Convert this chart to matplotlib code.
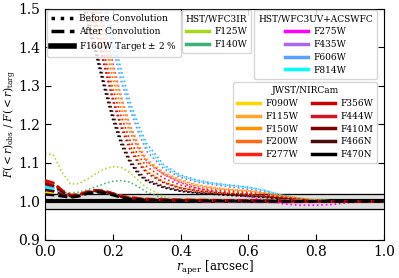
import numpy as np
import matplotlib
matplotlib.use('Agg')
import matplotlib.pyplot as plt
from matplotlib.lines import Line2D

plt.rcParams['font.family'] = 'DejaVu Serif'
plt.rcParams['mathtext.fontset'] = 'dejavuserif'

# aperture radii [arcsec]
r_before = [0.0, 0.05, 0.1, 0.125, 0.15, 0.175, 0.2, 0.225, 0.25, 0.275, 0.3,
            0.35, 0.4, 0.45, 0.5, 0.55, 0.6, 0.65, 0.7, 0.75, 0.8, 0.85, 0.9, 1.0]
r_after = [0.0, 0.025, 0.05, 0.075, 0.1, 0.125, 0.15, 0.175, 0.2, 0.225, 0.25,
           0.3, 0.4, 0.5, 0.6, 0.7, 0.8, 0.9, 1.0]
r_ir = [0.0, 0.025, 0.05, 0.075, 0.1, 0.125, 0.15, 0.175, 0.2, 0.225, 0.25,
        0.275, 0.3, 0.35, 0.4, 0.5, 0.6, 0.8, 1.0]

# HST/WFC3IR
ir_filters = ['F125W', 'F140W']
ir_colors = ['#a8d81c', '#3cb07a']
ir_before = {
    'F125W': [1.125, 1.12, 1.075, 1.045, 1.046, 1.058, 1.072, 1.084, 1.09, 1.088,
              1.075, 1.055, 1.035, 1.012, 1.002, 1.0, 1.0, 1.0, 1.0],
    'F140W': [1.03, 1.028, 1.024, 1.022, 1.024, 1.03, 1.038, 1.046, 1.052, 1.054,
              1.05, 1.038, 1.024, 1.008, 1.002, 1.0, 1.0, 1.0, 1.0],
}
ir_after = {
    'F125W': [1.04, 1.035, 1.022, 1.014, 1.017, 1.024, 1.027, 1.025, 1.019, 1.013,
              1.009, 1.006, 1.004, 1.003, 1.002, 1.002, 1.001, 1.0, 1.0],
    'F140W': [1.035, 1.03, 1.02, 1.013, 1.016, 1.023, 1.026, 1.024, 1.018, 1.012,
              1.008, 1.005, 1.003, 1.002, 1.002, 1.001, 1.0, 1.0, 1.0],
}

# HST/WFC3UV+ACSWFC
uv_filters = ['F275W', 'F435W', 'F606W', 'F814W']
uv_colors = ['#ff00ff', '#aa66f0', '#55a2ff', '#00ffff']
uv_before = {
    'F275W': [3.9, 2.6, 1.8, 1.67, 1.55, 1.45, 1.36, 1.27, 1.2, 1.145, 1.105,
              1.07, 1.048, 1.034, 1.025, 1.018, 1.012, 1.003, 0.994, 0.99, 0.99,
              0.992, 0.997, 1.0],
    'F435W': [4.0, 2.7, 1.86, 1.72, 1.6, 1.5, 1.4, 1.31, 1.24, 1.18, 1.13,
              1.085, 1.062, 1.05, 1.043, 1.037, 1.032, 1.024, 1.013, 1.005, 1.0,
              0.998, 0.999, 1.0],
    'F606W': [4.1, 2.8, 1.9, 1.76, 1.64, 1.53, 1.43, 1.34, 1.26, 1.2, 1.15,
              1.095, 1.068, 1.055, 1.047, 1.042, 1.037, 1.028, 1.016, 1.008, 1.003,
              1.001, 1.0, 1.0],
    'F814W': [4.0, 2.75, 1.88, 1.74, 1.62, 1.51, 1.41, 1.32, 1.25, 1.19, 1.14,
              1.09, 1.066, 1.053, 1.046, 1.041, 1.036, 1.028, 1.016, 1.008, 1.003,
              1.001, 1.0, 1.0],
}
uv_after = {
    'F275W': [1.03, 1.026, 1.018, 1.012, 1.015, 1.022, 1.026, 1.024, 1.018, 1.012,
              1.008, 1.004, 1.002, 1.0, 0.999, 0.998, 0.999, 1.0, 1.0],
    'F435W': [1.038, 1.033, 1.021, 1.013, 1.016, 1.023, 1.027, 1.025, 1.019, 1.013,
              1.009, 1.005, 1.003, 1.002, 1.001, 1.0, 1.0, 1.0, 1.0],
    'F606W': [1.042, 1.037, 1.023, 1.014, 1.017, 1.024, 1.028, 1.026, 1.02, 1.014,
              1.01, 1.006, 1.004, 1.003, 1.002, 1.001, 1.0, 1.0, 1.0],
    'F814W': [1.036, 1.031, 1.02, 1.013, 1.016, 1.023, 1.027, 1.025, 1.019, 1.013,
              1.009, 1.005, 1.003, 1.002, 1.002, 1.001, 1.0, 1.0, 1.0],
}

# JWST/NIRCam
nc_filters = ['F090W', 'F115W', 'F150W', 'F200W', 'F277W',
              'F356W', 'F444W', 'F410M', 'F466N', 'F470N']
nc_colors = ['#ffd700', '#ffa528', '#ff9500', '#ff6a1a', '#ff2010',
             '#cc0000', '#d01525', '#800000', '#4a0c0c', '#000000']
nc_before = {
    'F090W': [3.7, 2.4, 1.7, 1.58, 1.47, 1.38, 1.3, 1.22, 1.155, 1.11, 1.08,
              1.05, 1.036, 1.028, 1.023, 1.02, 1.017, 1.013, 1.008, 1.004, 1.001,
              1.0, 0.999, 1.0],
    'F115W': [3.9, 2.55, 1.78, 1.65, 1.54, 1.44, 1.35, 1.27, 1.2, 1.15, 1.11,
              1.076, 1.056, 1.043, 1.036, 1.031, 1.028, 1.022, 1.014, 1.008, 1.003,
              1.001, 1.0, 1.0],
    'F150W': [3.8, 2.5, 1.76, 1.63, 1.52, 1.42, 1.34, 1.26, 1.19, 1.14, 1.105,
              1.073, 1.054, 1.041, 1.034, 1.03, 1.027, 1.021, 1.014, 1.008, 1.003,
              1.001, 1.0, 1.0],
    'F200W': [3.8, 2.48, 1.74, 1.61, 1.5, 1.41, 1.32, 1.24, 1.18, 1.135, 1.1,
              1.07, 1.05, 1.038, 1.032, 1.028, 1.025, 1.02, 1.013, 1.007, 1.003,
              1.001, 1.0, 1.0],
    'F277W': [3.7, 2.42, 1.7, 1.58, 1.47, 1.38, 1.29, 1.22, 1.16, 1.12, 1.09,
              1.06, 1.042, 1.033, 1.028, 1.025, 1.022, 1.017, 1.011, 1.006, 1.002,
              1.0, 1.0, 1.0],
    'F356W': [3.6, 2.35, 1.65, 1.54, 1.44, 1.35, 1.26, 1.19, 1.135, 1.098, 1.073,
              1.048, 1.034, 1.027, 1.023, 1.02, 1.018, 1.014, 1.009, 1.005, 1.002,
              1.0, 1.0, 1.0],
    'F444W': [3.6, 2.36, 1.66, 1.55, 1.45, 1.36, 1.27, 1.2, 1.145, 1.104, 1.077,
              1.05, 1.035, 1.028, 1.024, 1.021, 1.019, 1.015, 1.01, 1.005, 1.002,
              1.0, 1.0, 1.0],
    'F410M': [3.5, 2.25, 1.58, 1.49, 1.4, 1.31, 1.23, 1.16, 1.11, 1.078, 1.057,
              1.039, 1.029, 1.023, 1.02, 1.017, 1.015, 1.012, 1.008, 1.004, 1.001,
              1.0, 1.0, 1.0],
    'F466N': [3.5, 2.22, 1.56, 1.47, 1.39, 1.3, 1.22, 1.155, 1.105, 1.073, 1.054,
              1.037, 1.027, 1.022, 1.019, 1.016, 1.014, 1.011, 1.007, 1.003, 1.001,
              1.0, 1.0, 1.0],
    'F470N': [3.5, 2.2, 1.55, 1.46, 1.38, 1.29, 1.21, 1.145, 1.1, 1.07, 1.052,
              1.035, 1.026, 1.021, 1.018, 1.015, 1.013, 1.01, 1.006, 1.003, 1.001,
              1.0, 1.0, 1.0],
}
nc_after = {
    'F090W': [1.022, 1.02, 1.014, 1.01, 1.014, 1.021, 1.025, 1.023, 1.017, 1.011,
              1.008, 1.004, 1.002, 1.001, 1.001, 1.0, 1.0, 1.0, 1.0],
    'F115W': [1.045, 1.04, 1.025, 1.015, 1.017, 1.024, 1.028, 1.026, 1.02, 1.014,
              1.01, 1.006, 1.004, 1.003, 1.002, 1.001, 1.0, 1.0, 1.0],
    'F150W': [1.05, 1.044, 1.027, 1.016, 1.018, 1.025, 1.029, 1.027, 1.02, 1.014,
              1.01, 1.006, 1.004, 1.003, 1.002, 1.001, 1.0, 1.0, 1.0],
    'F200W': [1.052, 1.046, 1.028, 1.016, 1.018, 1.025, 1.029, 1.027, 1.02, 1.014,
              1.01, 1.006, 1.004, 1.003, 1.002, 1.001, 1.0, 1.0, 1.0],
    'F277W': [1.055, 1.048, 1.029, 1.016, 1.018, 1.025, 1.029, 1.027, 1.021, 1.014,
              1.01, 1.006, 1.004, 1.003, 1.002, 1.001, 1.0, 1.0, 1.0],
    'F356W': [1.053, 1.047, 1.028, 1.015, 1.017, 1.024, 1.028, 1.026, 1.02, 1.013,
              1.009, 1.005, 1.003, 1.002, 1.002, 1.001, 1.0, 1.0, 1.0],
    'F444W': [1.05, 1.044, 1.027, 1.015, 1.017, 1.024, 1.028, 1.026, 1.02, 1.013,
              1.009, 1.005, 1.003, 1.002, 1.002, 1.001, 1.0, 1.0, 1.0],
    'F410M': [1.045, 1.04, 1.025, 1.014, 1.016, 1.023, 1.027, 1.025, 1.019, 1.012,
              1.008, 1.004, 1.003, 1.002, 1.001, 1.001, 1.0, 1.0, 1.0],
    'F466N': [1.03, 1.026, 1.018, 1.012, 1.015, 1.022, 1.026, 1.024, 1.018, 1.011,
              1.007, 1.004, 1.002, 1.001, 1.001, 1.0, 1.0, 1.0, 1.0],
    'F470N': [1.018, 1.016, 1.013, 1.01, 1.013, 1.02, 1.024, 1.022, 1.016, 1.01,
              1.006, 1.003, 1.002, 1.001, 1.0, 1.0, 1.0, 1.0, 1.0],
}

fig = plt.figure(figsize=(3.99, 2.78), dpi=100)
ax = fig.add_axes([0.113, 0.137, 0.849, 0.832])

# target +/- 2 % band
ax.axhspan(0.98, 1.02, color='#e0e0e0', zorder=0)
ax.axhline(1.02, color='k', lw=0.9, zorder=1)
ax.axhline(0.98, color='k', lw=0.9, zorder=1)
ax.axhline(1.0, color='k', lw=3, zorder=1)

for f, c in zip(ir_filters, ir_colors):
    ax.plot(r_ir, ir_before[f], ls=':', lw=1.1, color=c, zorder=2)
    ax.plot(r_after, ir_after[f], ls='--', lw=1.8, color=c, zorder=3)
for f, c in zip(uv_filters, uv_colors):
    ax.plot(r_before, uv_before[f], ls=':', lw=1.2, color=c, zorder=2)
    ax.plot(r_after, uv_after[f], ls='--', lw=1.8, color=c, zorder=3)
for f, c in zip(nc_filters, nc_colors):
    ax.plot(r_before, nc_before[f], ls=':', lw=1.2, color=c, zorder=2)
    ax.plot(r_after, nc_after[f], ls='--', lw=1.8, color=c, zorder=3)

ax.set_xlim(0, 1)
ax.set_ylim(0.9, 1.5)
ax.set_xticks([0.0, 0.2, 0.4, 0.6, 0.8, 1.0])
ax.set_yticks([0.9, 1.0, 1.1, 1.2, 1.3, 1.4, 1.5])
ax.tick_params(direction='in', top=True, right=True, labelsize=10, length=4)
ax.set_xlabel(r'$r_{\rm aper}$ [arcsec]', fontsize=8.5, labelpad=0)
ax.set_ylabel(r'$F(<r)_{\rm obs}\ /\ F(<r)_{\rm targ}$', fontsize=7.6)
ax.yaxis.set_label_coords(-0.077, 0.5)

lkw = dict(fontsize=6.5, handlelength=2.5, labelspacing=0.42, borderpad=0.45,
           handletextpad=0.6, borderaxespad=0.2, title_fontsize=6.5)

h1 = [Line2D([], [], ls=':', lw=2.5, color='k'),
      Line2D([], [], ls='--', lw=2.5, color='k'),
      Line2D([], [], ls='-', lw=4, color='k')]
leg1 = ax.legend(h1, ['Before Convolution', 'After Convolution', 'F160W Target $\\pm$ 2 %'],
                 loc='upper left', bbox_to_anchor=(0.0, 1.0), **lkw)
ax.add_artist(leg1)

h2 = [Line2D([], [], lw=2.5, color=c) for c in ir_colors]
leg2 = ax.legend(h2, ir_filters, title='HST/WFC3IR', loc='upper left',
                 bbox_to_anchor=(0.398, 1.0), **lkw)
ax.add_artist(leg2)

h3 = [Line2D([], [], lw=2.5, color=c) for c in uv_colors]
leg3 = ax.legend(h3, uv_filters, title='HST/WFC3UV+ACSWFC', loc='upper right',
                 bbox_to_anchor=(0.985, 1.0), **lkw)
ax.add_artist(leg3)

h4 = [Line2D([], [], lw=2.5, color=c) for c in nc_colors]
leg4 = ax.legend(h4, nc_filters, title='JWST/NIRCam', loc='upper right', ncol=2,
                 bbox_to_anchor=(0.985, 0.69), columnspacing=1.5, **lkw)

fig.savefig('out.png', dpi=100)
